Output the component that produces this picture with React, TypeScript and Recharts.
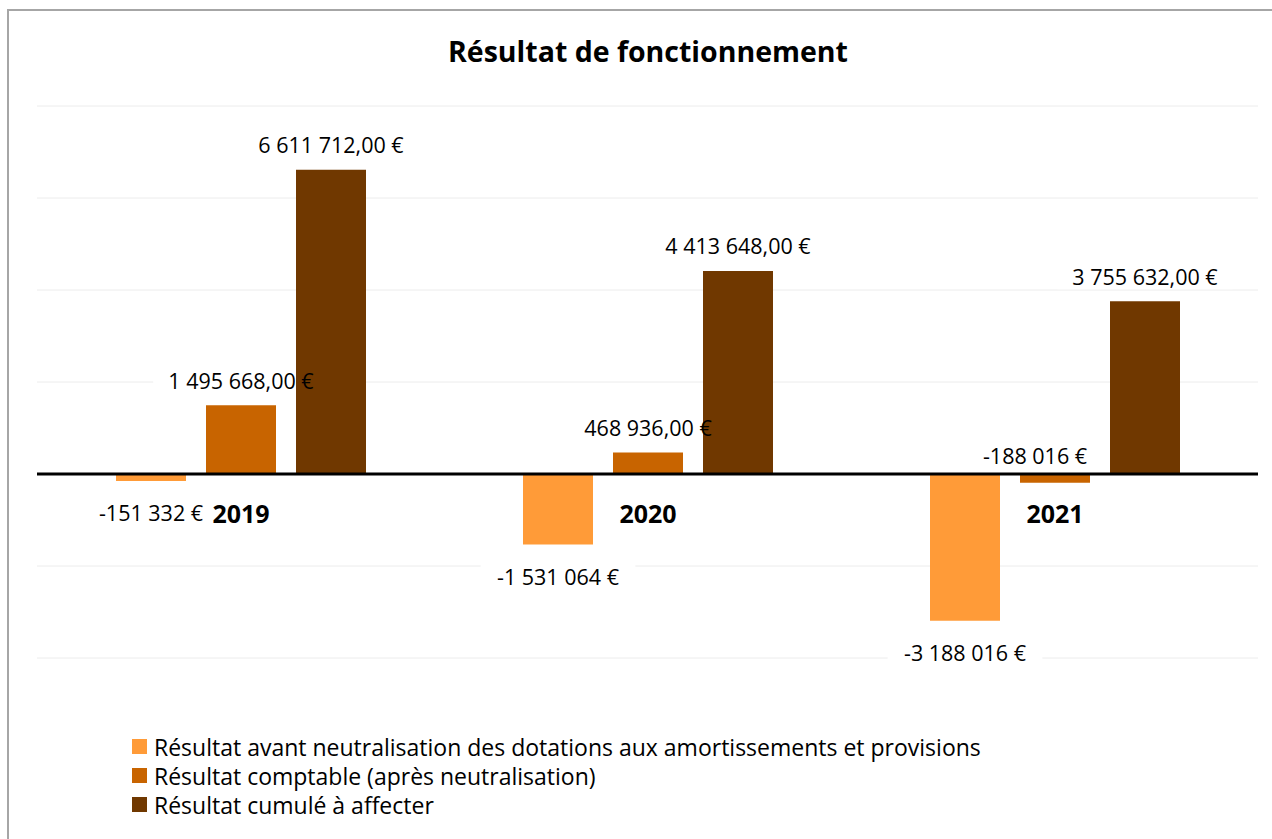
/**
 * Résultat de fonctionnement - grouped bars per year, labels in euros.
 */
import { BarChart, Bar, XAxis, YAxis, CartesianGrid, ReferenceLine, LabelList } from 'recharts'

const years = ['2019', '2020', '2021']
const avantNeutralisation = [-151332, -1531064, -3188016]
const comptable = [1495668, 468936, -188016]
const cumule = [6611712, 4413648, 3755632]
const yTicks = [-4000000, -2000000, 0, 2000000, 4000000, 6000000, 8000000]

const seriesNames = {
  avant: 'Résultat avant neutralisation des dotations aux amortissements et provisions',
  comptable: 'Résultat comptable (après neutralisation)',
  cumule: 'Résultat cumulé à affecter',
}

const colors = {
  avant: '#FF9B38',
  comptable: '#C86400',
  cumule: '#703800',
}

const data = years.map((year, i) => ({
  year,
  avant: avantNeutralisation[i],
  comptable: comptable[i],
  cumule: cumule[i],
}))

const FONT = '"Open Sans", Lato, sans-serif'
const LABEL_SIZE = 21.5

// hand-moved label in the original (2021 comptable sits above the axis)
const labelNudges: Record<string, { dx: number; above: boolean }> = {
  'comptable-2': { dx: -20, above: true },
}

function formatEuro(v: number) {
  const s = Math.abs(v)
    .toString()
    .replace(/\B(?=(\d{3})+(?!\d))/g, ' ')
  return v < 0 ? `-${s} €` : `${s},00 €`
}

// where a value label goes, given the bar rectangle
function labelPos(key: string, props: any, value: number) {
  const { x, y, width, height, index } = props
  const top = Math.min(y, y + height)
  const bottom = Math.max(y, y + height)
  const nudge = labelNudges[`${key}-${index}`]
  let cx = x + width / 2
  let cy = value >= 0 ? top - 25 : bottom + 32
  if (nudge) {
    cx += nudge.dx
    cy = nudge.above ? top - 19 : cy
  }
  return { cx, cy }
}

function makeValueLabel(key: string) {
  return (props: any) => {
    const { value } = props
    if (value == null) return null
    const { cx, cy } = labelPos(key, props, value)
    return (
      <text
        x={cx}
        y={cy}
        textAnchor="middle"
        dominantBaseline="central"
        fontSize={LABEL_SIZE}
        fontFamily={FONT}
        fill="#000"
      >
        {formatEuro(value)}
      </text>
    )
  }
}

// white box behind each label; drawn by a hidden series so it sits under the bars but over the grid
function makeLabelBox(key: string) {
  return (props: any) => {
    const value = props.payload?.[key]
    if (value == null) return <g />
    const { cx, cy } = labelPos(key, props, value)
    const w = formatEuro(value).length * 10.4 + 30
    return <rect x={cx - w / 2} y={cy - 13} width={w} height={26} fill="#fff" />
  }
}

// year names sit just under the zero line, not at the bottom of the plot
const YearLabel = (props: any) => {
  const { x, y, width, height, value, index } = props
  const v = comptable[index]
  const base = v >= 0 ? Math.max(y, y + height) : Math.min(y, y + height)
  return (
    <text
      x={x + width / 2}
      y={base + 39}
      textAnchor="middle"
      dominantBaseline="central"
      fontSize={25}
      fontWeight={700}
      fontFamily={FONT}
      fill="#000"
    >
      {value}
    </text>
  )
}

export default function App() {
  return (
    <div
      style={{
        position: 'fixed',
        left: 0,
        top: 0,
        width: 1272,
        height: 839,
        overflow: 'hidden',
        background: '#fff',
        fontFamily: FONT,
      }}
    >
      <div
        style={{
          position: 'absolute',
          left: 7,
          top: 9,
          width: 1300,
          height: 900,
          border: '2px solid #a6a6a6',
        }}
      />
      <div
        style={{
          position: 'absolute',
          left: 0,
          top: 31,
          width: 1296,
          textAlign: 'center',
          fontSize: 28.5,
          lineHeight: '40px',
          fontWeight: 700,
          color: '#000',
        }}
      >
        Résultat de fonctionnement
      </div>
      <div style={{ position: 'absolute', left: 0, top: 0 }}>
        <BarChart
          width={1272}
          height={839}
          data={data}
          margin={{ top: 106, right: 14, bottom: 181, left: 37 }}
          barSize={70}
          barGap={20}
        >
          <CartesianGrid vertical={false} stroke="#ececec" strokeWidth={1} />
          <XAxis dataKey="year" hide />
          <XAxis dataKey="year" xAxisId="bg" hide />
          <YAxis hide domain={[-4000000, 8000000]} ticks={yTicks} width={0} />
          {(['avant', 'comptable', 'cumule'] as const).map((k) => (
            <Bar
              key={`bg-${k}`}
              xAxisId="bg"
              dataKey={k}
              legendType="none"
              shape={makeLabelBox(k)}
              isAnimationActive={false}
            />
          ))}
          <Bar dataKey="avant" name={seriesNames.avant} fill={colors.avant} isAnimationActive={false}>
            <LabelList dataKey="avant" content={makeValueLabel('avant')} />
          </Bar>
          <Bar dataKey="comptable" name={seriesNames.comptable} fill={colors.comptable} isAnimationActive={false}>
            <LabelList dataKey="comptable" content={makeValueLabel('comptable')} />
            <LabelList dataKey="year" content={YearLabel} />
          </Bar>
          <Bar dataKey="cumule" name={seriesNames.cumule} fill={colors.cumule} isAnimationActive={false}>
            <LabelList dataKey="cumule" content={makeValueLabel('cumule')} />
          </Bar>
          <ReferenceLine y={0} stroke="#000" strokeWidth={3} />
        </BarChart>
      </div>
      <div style={{ position: 'absolute', left: 132, top: 732, fontSize: 23, color: '#000' }}>
        {(['avant', 'comptable', 'cumule'] as const).map((k) => (
          <div key={k} style={{ display: 'flex', alignItems: 'center', height: 29 }}>
            <div style={{ width: 15, height: 15, background: colors[k], marginRight: 7 }} />
            <span>{seriesNames[k]}</span>
          </div>
        ))}
      </div>
    </div>
  )
}
